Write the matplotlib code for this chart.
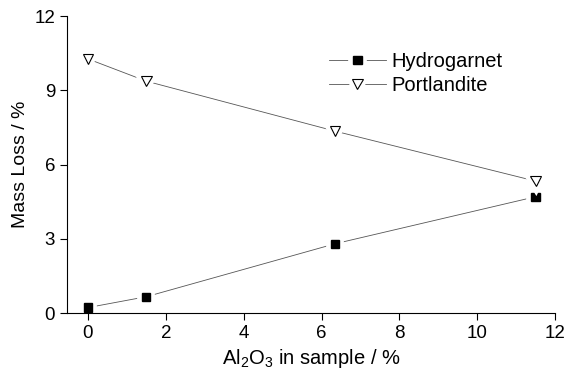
import matplotlib
matplotlib.use("Agg")
import matplotlib.pyplot as plt
import matplotlib.patheffects as pe

plt.rcParams['font.family'] = ['Liberation Sans', 'DejaVu Sans']

# datos
al2o3 = [0, 1.5, 6.35, 11.5]
hydrogarnet = [0.22, 0.66, 2.8, 4.7]
portlandite = [10.27, 9.37, 7.35, 5.33]

fig = plt.figure(figsize=(5.67, 3.74), dpi=100)
ax = fig.add_axes([0.118, 0.163, 0.861, 0.794])

halo = [pe.withStroke(linewidth=7, foreground='white')]

l1, = ax.plot(al2o3, hydrogarnet, color='#555555', lw=0.6)
m1, = ax.plot(al2o3, hydrogarnet, ls='none', marker='s', ms=6,
              mfc='black', mec='black', path_effects=halo)
l2, = ax.plot(al2o3, portlandite, color='#555555', lw=0.6)
m2, = ax.plot(al2o3, portlandite, ls='none', marker='v', ms=7.5,
              mfc='white', mec='black', mew=0.8, path_effects=halo)

ax.set_xlim(-0.54, 12)
ax.set_ylim(0, 12)
ax.set_xticks([0, 2, 4, 6, 8, 10, 12])
ax.set_yticks([0, 3, 6, 9, 12])
ax.spines['top'].set_visible(False)
ax.spines['right'].set_visible(False)
ax.tick_params(direction='out', length=5, labelsize=13.5)
ax.set_xlabel(r'Al$_\mathregular{2}$O$_\mathregular{3}$ in sample / %', fontsize=14.5)
ax.set_ylabel('Mass Loss / %', fontsize=14)

ax.legend([(l1, m1), (l2, m2)], ['Hydrogarnet', 'Portlandite'],
          loc='upper right', bbox_to_anchor=(0.93, 0.94), frameon=False,
          fontsize=14.5, handlelength=2.8, handletextpad=0.3, labelspacing=0.25)

plt.savefig('out.png', dpi=100)
